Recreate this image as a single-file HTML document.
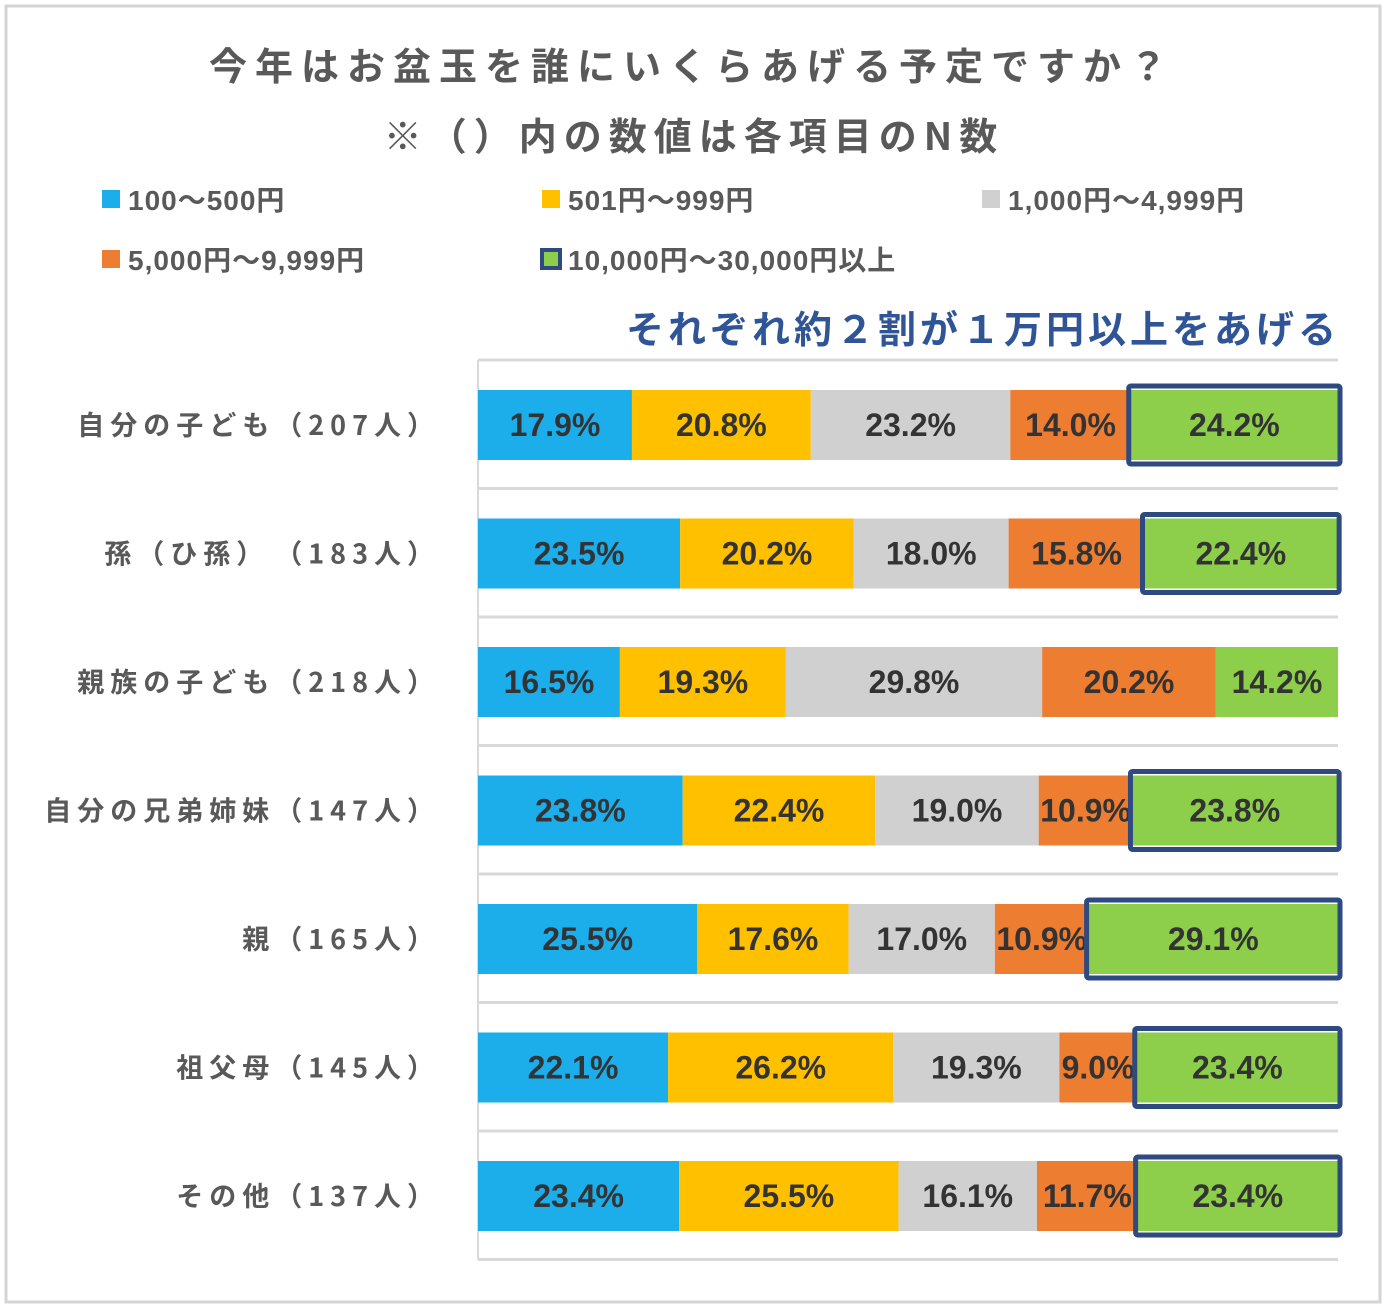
<!DOCTYPE html>
<html><head><meta charset="utf-8"><style>
body{margin:0;background:#fff;}
svg{display:block;font-family:"Liberation Sans","Noto Sans CJK JP",sans-serif;}
</style></head><body>
<svg id="c" width="1386" height="1308">
<rect x="6" y="6" width="1374" height="1296" fill="#fff" stroke="#d4d4d4" stroke-width="3"/>
<text x="692" y="80" text-anchor="middle" font-size="38" font-weight="bold" fill="#595959" letter-spacing="8" font-family="Noto Sans CJK JP, sans-serif">今年はお盆玉を誰にいくらあげる予定ですか？</text>
<text x="694" y="150" text-anchor="middle" font-size="38" font-weight="bold" fill="#595959" letter-spacing="7" font-family="Noto Sans CJK JP, sans-serif">※（）内の数値は各項目のN数</text>
<text x="1340" y="343" text-anchor="end" font-size="38" font-weight="bold" fill="#2f5597" letter-spacing="4" font-family="Noto Sans CJK JP, sans-serif">それぞれ約２割が１万円以上をあげる</text>
<g id="legend"></g>
<g id="grid"></g>
<g id="bars"></g>
<g id="labels"></g>
</svg>
<script>
const categories=["自分の子ども（207人）","孫（ひ孫）　（183人）","親族の子ども（218人）","自分の兄弟姉妹（147人）","親（165人）","祖父母（145人）","その他（137人）"];
const seriesNames=["100～500円","501円～999円","1,000円～4,999円","5,000円～9,999円","10,000円～30,000円以上"];
const s1=[17.9,23.5,16.5,23.8,25.5,22.1,23.4];
const s2=[20.8,20.2,19.3,22.4,17.6,26.2,25.5];
const s3=[23.2,18.0,29.8,19.0,17.0,19.3,16.1];
const s4=[14.0,15.8,20.2,10.9,10.9,9.0,11.7];
const s5=[24.2,22.4,14.2,23.8,29.1,23.4,23.4];
const highlighted=[true,true,false,true,true,true,true];
const colors=["#1cadeb","#ffc000","#d0d0d0","#ed7d31","#8dcf4a"];
const NS="http://www.w3.org/2000/svg";
function mk(tag,attrs,parent){const e=document.createElementNS(NS,tag);for(const k in attrs)e.setAttribute(k,attrs[k]);parent.appendChild(e);return e;}
const X0=478,W=860,Y0=360,rowH=128.5,barH=70;
const x=v=>X0+v/100*W;
const yTop=i=>Y0+30+i*rowH;
const legPos=[[102,200],[542,200],[982,200],[102,260],[542,260]];
const lg=document.getElementById('legend');
seriesNames.forEach((n,i)=>{
 const [lx,ly]=legPos[i];
 const r=mk('rect',{x:lx,y:ly-10,width:18,height:18,fill:colors[i],stroke:i==4?'#2f4a80':'none','stroke-width':i==4?4:0},lg);
 
 
 const t=mk('text',{x:lx+26,y:ly+10,'font-size':28,'font-weight':'bold',fill:'#595959','letter-spacing':1},lg);
 t.textContent=n;
 
 
});
const gg=document.getElementById('grid');
for(let i=0;i<=categories.length;i++){
 const l=mk('line',{x1:X0,x2:X0+W,y1:Y0+i*rowH,y2:Y0+i*rowH,stroke:'#d9d9d9','stroke-width':3},gg);
 
 
}
const ax=mk('line',{x1:X0,x2:X0,y1:Y0,y2:Y0+7*rowH,stroke:'#d9d9d9','stroke-width':2},gg);


const series=[s1,s2,s3,s4,s5];
const bg=document.getElementById('bars');
categories.forEach((c,i)=>{
 let cum=0;const yt=yTop(i);
 series.forEach((s,k)=>{
  const v=s[i];const xa=x(cum),xb=x(Math.min(cum+v,100));
  const r=mk('rect',{x:xa,y:yt,width:Math.max(0,xb-xa),height:barH,fill:colors[k]},bg);
  
  
  if(k==4&&highlighted[i]){
   const b=mk('rect',{x:xa-2,y:yt-4,width:xb-xa+4,height:barH+8,fill:'none',stroke:'#2f4a80','stroke-width':5,rx:2},bg);
   
   
  }
  const t=mk('text',{x:(xa+xb)/2,y:yt+barH/2+11,'text-anchor':'middle','font-size':32,'font-weight':'bold',fill:'#333'},bg);
  t.textContent=v.toFixed(1)+'%';
  
  
  cum+=v;
 });
 const lt=mk('text',{x:440,y:yt+barH/2+10,'text-anchor':'end','font-size':27,'font-weight':'bold',fill:'#595959','letter-spacing':6,'font-family':'Noto Sans CJK JP, sans-serif'},document.getElementById('labels'));
 lt.textContent=c;
 
 
});
</script>
</body></html>
